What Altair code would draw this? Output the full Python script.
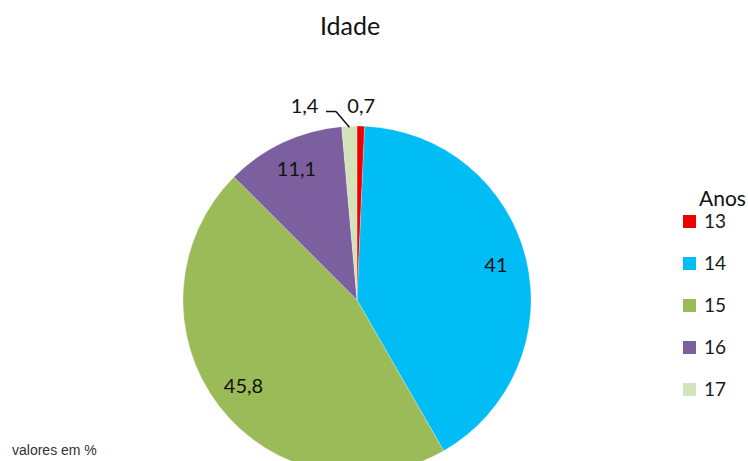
import math
import altair as alt
import pandas as pd

# ---- data ----
anos = ["13", "14", "15", "16", "17"]
valores = [0.7, 41, 45.8, 11.1, 1.4]
cores = ["#F00000", "#00BDF5", "#9BBB59", "#7C5F9E", "#D5E3BA"]

titulo = "Idade"
titulo_legenda = "Anos"
nota = "valores em %"

df = pd.DataFrame({"ano": anos, "valor": valores, "ordem": list(range(len(anos)))})
one = pd.DataFrame({"k": [0]})

# ---- layout constants ----
W, H = 748, 461
CX, CY, R = 357, 300, 174
FONT = "Lato"

base = alt.Chart(df).encode(
    theta=alt.Theta("valor:Q", stack=True),
    order=alt.Order("ordem:Q"),
).transform_calculate(
    rotulo="replace(toString(datum.valor), '.', ',')"
)

pie = base.mark_arc(radius=R, stroke="#ffffff", strokeWidth=0.4, strokeOpacity=0.6).encode(
    x=alt.value(CX),
    y=alt.value(CY),
    color=alt.Color(
        "ano:N",
        scale=alt.Scale(domain=anos, range=cores),
        legend=alt.Legend(
            title=None,
            orient="none",
            legendX=680,
            legendY=212,
            symbolType="square",
            symbolSize=169,
            symbolStrokeWidth=0,
            labelFont=FONT,
            labelFontSize=19,
            labelColor="#1a1a1a",
            labelOffset=5,
            rowPadding=22,
            padding=0,
        ),
    ),
)

txt_big = base.transform_calculate(
    t="datum.valor > 5 ? datum.rotulo : ''"
).mark_text(radius=143, font=FONT, fontSize=20, color="#111111").encode(
    x=alt.value(CX), y=alt.value(CY), text="t:N"
)

txt_13 = base.transform_calculate(
    t="datum.ano == '13' ? datum.rotulo : ''"
).mark_text(radius=193, font=FONT, fontSize=20, color="#111111").encode(
    x=alt.value(CX), y=alt.value(CY), text="t:N"
)

txt_17 = base.transform_calculate(
    t="datum.ano == '17' ? datum.rotulo : ''"
).mark_text(radius=193, dx=-44, font=FONT, fontSize=20, color="#111111").encode(
    x=alt.value(CX), y=alt.value(CY), text="t:N"
)

# leader line for the "17" slice, end point derived from the data
tot = sum(valores)
th = (sum(valores[:4]) + valores[4] / 2) / tot * 2 * math.pi
ex = CX + (R - 1) * math.sin(th)
ey = CY - (R - 1) * math.cos(th)
lx0, lx1, ly = 326, 336, 111.5

lead1 = alt.Chart(one).mark_rule(color="#111111", strokeWidth=1.5).encode(
    x=alt.value(lx0), x2=alt.value(lx1), y=alt.value(ly), y2=alt.value(ly)
)
lead2 = alt.Chart(one).mark_rule(color="#111111", strokeWidth=1.5).encode(
    x=alt.value(lx1), x2=alt.value(ex), y=alt.value(ly), y2=alt.value(ey)
)

anos_txt = alt.Chart(one).mark_text(
    text=titulo_legenda, font=FONT, fontSize=21, align="left", baseline="alphabetic", color="#111111"
).encode(x=alt.value(699), y=alt.value(206))

nota_txt = alt.Chart(one).mark_text(
    text=nota, font="Liberation Sans", fontSize=14, align="left", baseline="alphabetic", color="#333333"
).encode(x=alt.value(12), y=alt.value(455))

chart = alt.layer(pie, txt_big, txt_13, txt_17, lead1, lead2, anos_txt, nota_txt).properties(
    width=W,
    height=H,
    autosize=alt.AutoSizeParams(type="none"),
    padding=0,
    background="#ffffff",
    title=alt.TitleParams(
        titulo, font=FONT, fontSize=25, fontWeight="normal", color="#111111",
        anchor="middle", dx=-24, dy=44,
    ),
).configure_view(stroke=None)

chart.save("out.html", embed_options={"renderer": "svg", "actions": False})
